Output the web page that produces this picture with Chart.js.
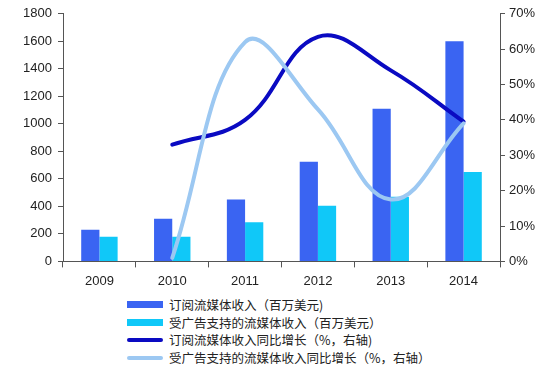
<!DOCTYPE html>
<html>
<head>
<meta charset="utf-8">
<script src="https://cdn.jsdelivr.net/npm/chart.js@4"></script>
<style>
  html, body { margin: 0; padding: 0; background: #fff; overflow: hidden; }
  #wrap { position: relative; width: 554px; height: 295px; }
  #legend { position: absolute; left: 127px; top: 296px; font-family: "Noto Sans CJK SC", sans-serif; font-size: 12.5px; color: #222; white-space: nowrap; }
  .row { display: flex; align-items: center; height: 17.6px; }
  .sw { width: 36px; margin-right: 6px; }
</style>
</head>
<body>
<div id="wrap"><canvas id="chart"></canvas></div>
<div id="legend"></div>
<script>
const years = ["2009", "2010", "2011", "2012", "2013", "2014"];
const subRevenue = [230, 310, 450, 725, 1110, 1600];
const adRevenue = [180, 180, 285, 405, 470, 650];
const subGrowth = [null, 33, 40, 63.5, 54, 39.5];
const adGrowth = [null, 1, 62, 43, 17.5, 39];

const labels = {
  subRevenue: "订阅流媒体收入（百万美元)",
  adRevenue: "受广告支持的流媒体收入（百万美元）",
  subGrowth: "订阅流媒体收入同比增长（%，右轴)",
  adGrowth: "受广告支持的流媒体收入同比增长（%，右轴）",
};

const colors = {
  subRevenue: "#3a64f2",
  adRevenue: "#10c8f8",
  subGrowth: "#0a0ac2",
  adGrowth: "#9cc8f2",
};

const tickFont = { family: "Liberation Sans, Arial, sans-serif", size: 13 };

const datasets = [
  {
    type: "bar", label: labels.subRevenue, data: subRevenue, yAxisID: "y",
    backgroundColor: colors.subRevenue, order: 3,
    categoryPercentage: 0.5, barPercentage: 1,
  },
  {
    type: "bar", label: labels.adRevenue, data: adRevenue, yAxisID: "y",
    backgroundColor: colors.adRevenue, order: 3,
    categoryPercentage: 0.5, barPercentage: 1,
  },
  {
    type: "line", label: labels.subGrowth, data: subGrowth, yAxisID: "y1",
    borderColor: colors.subGrowth, borderWidth: 4, pointRadius: 0,
    tension: 0.4, order: 1, borderCapStyle: "round",
  },
  {
    type: "line", label: labels.adGrowth, data: adGrowth, yAxisID: "y1",
    borderColor: colors.adGrowth, borderWidth: 4, pointRadius: 0,
    tension: 0.4, order: 0, borderCapStyle: "round",
  },
];

new Chart(document.getElementById("chart"), {
  data: { labels: years, datasets },
  options: {
    responsive: true,
    maintainAspectRatio: false,
    animation: false,
    layout: { padding: { top: 2, left: 0, right: 0, bottom: 0 } },
    plugins: { legend: { display: false }, tooltip: { enabled: false } },
    scales: {
      x: {
        offset: true,
        grid: { display: true, drawOnChartArea: false, offset: true, tickLength: 6, color: "#555" },
        border: { color: "#555", width: 1 },
        ticks: { color: "#222", font: tickFont, padding: 6 },
      },
      y: {
        position: "left",
        min: 0, max: 1800,
        afterFit: (scale) => { scale.width = 63; },
        grid: { drawOnChartArea: false, tickLength: 5, color: "#555" },
        border: { color: "#555", width: 1 },
        ticks: { stepSize: 200, color: "#222", font: tickFont, padding: 6, callback: (v) => String(v) },
      },
      y1: {
        position: "right",
        min: 0, max: 70,
        afterFit: (scale) => { scale.width = 54; },
        grid: { drawOnChartArea: false, tickLength: 5, color: "#555" },
        border: { color: "#555", width: 1 },
        ticks: { stepSize: 10, color: "#222", font: tickFont, padding: 4, callback: (v) => v + "%" },
      },
    },
  },
});

const legendEl = document.getElementById("legend");
datasets.forEach((ds) => {
  const row = document.createElement("div");
  row.className = "row";
  const sw = document.createElement("span");
  sw.className = "sw";
  const isBar = ds.type === "bar";
  sw.style.height = isBar ? "7px" : "4px";
  sw.style.borderRadius = isBar ? "0" : "2px";
  sw.style.background = isBar ? ds.backgroundColor : ds.borderColor;
  const txt = document.createElement("span");
  txt.textContent = ds.label;
  row.appendChild(sw);
  row.appendChild(txt);
  legendEl.appendChild(row);
});
</script>
</body>
</html>
